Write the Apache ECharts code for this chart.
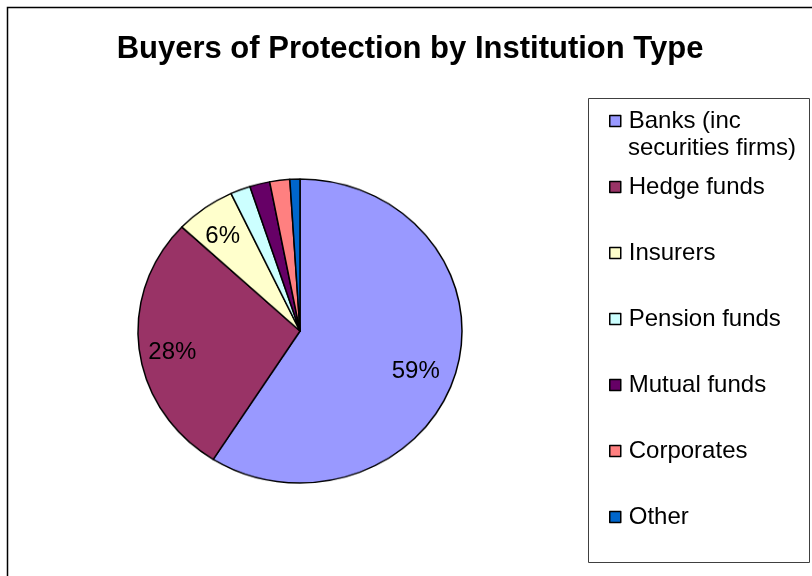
<!DOCTYPE html>
<html>
<head>
<meta charset="utf-8">
<script src="https://cdn.jsdelivr.net/npm/echarts@6/dist/echarts.min.js"></script>
<style>
html,body{margin:0;padding:0;background:#fff;}
#wrap{position:relative;width:812px;height:576px;overflow:hidden;}
#pie{position:absolute;left:0;top:0;width:812px;height:576px;transform-origin:300px 331px;transform:scaleY(0.938);}
#chart{position:absolute;left:0;top:0;width:812px;height:576px;}
</style>
</head>
<body>
<div id="wrap">
<div id="pie"></div>
<div id="chart"></div>
</div>
<script>
const categories = ['Banks (inc securities firms)', 'Hedge funds', 'Insurers', 'Pension funds', 'Mutual funds', 'Corporates', 'Other'];
const values = [59, 28, 6, 2, 2, 2, 1];
const colors = ['#9999FF', '#993366', '#FFFFCC', '#CCFFFF', '#660066', '#FF8080', '#0066CC'];
const titleText = 'Buyers of Protection by Institution Type';

const FONT = 'Arial, "Liberation Sans", sans-serif';
const CX = 300, CY = 331, R = 162;

// Pie slices (vertically squashed to match the elliptical Excel pie)
const pieChart = echarts.init(document.getElementById('pie'), null, {renderer: 'canvas'});
pieChart.setOption({
  animation: false,
  backgroundColor: 'rgba(0,0,0,0)',
  series: [{
    type: 'pie',
    center: [CX, CY],
    radius: [0, R],
    startAngle: 90,
    clockwise: true,
    avoidLabelOverlap: false,
    label: {show: false},
    labelLine: {show: false},
    itemStyle: {borderColor: '#000', borderWidth: 1.5},
    emphasis: {disabled: true},
    data: categories.map((c, i) => ({name: c, value: values[i], itemStyle: {color: colors[i]}}))
  }]
});

// Title, legend, frame and percentage labels
const chart = echarts.init(document.getElementById('chart'), null, {renderer: 'canvas'});
const labelData = categories.map((c, i) => ({
  name: c, value: values[i],
  label: {show: values[i] >= 5}
}));

chart.setOption({
  backgroundColor: 'rgba(0,0,0,0)',
  animation: false,
  title: {
    text: titleText,
    left: 405, top: 44, textAlign: 'center', textVerticalAlign: 'middle',
    textStyle: {fontFamily: FONT, fontSize: 31, fontWeight: 'bold', color: '#000'}
  },
  legend: {
    orient: 'vertical',
    left: 609, top: 109,
    padding: 0,
    itemGap: 42,
    itemWidth: 11, itemHeight: 11,
    icon: 'rect',
    selectedMode: false,
    data: categories.map((c, i) => ({name: c, itemStyle: {color: colors[i], borderColor: '#000', borderWidth: 1.5}})),
    formatter: function (n) { return n === categories[0] ? 'Banks (inc' : n; },
    textStyle: {fontFamily: FONT, fontSize: 24, color: '#000', lineHeight: 24, padding: [0, 0, 0, 3]}
  },
  graphic: [
    {type: 'rect', shape: {x: 7.5, y: 7.5, width: 900, height: 700}, style: {fill: 'none', stroke: '#000', lineWidth: 1.5}, silent: true},
    {type: 'rect', shape: {x: 588.5, y: 98.5, width: 221, height: 464}, style: {fill: 'none', stroke: '#404040', lineWidth: 1}, silent: true},
    {type: 'text', x: 628, y: 148, style: {text: 'securities firms)', font: '24px ' + FONT, fill: '#000', textVerticalAlign: 'middle'}, silent: true}
  ],
  series: [
    {
      type: 'pie',
      center: [296, 337],
      radius: [0, 157 * 1.55],
      startAngle: 90,
      clockwise: true,
      silent: true,
      avoidLabelOverlap: false,
      itemStyle: {color: 'rgba(0,0,0,0)', borderWidth: 0},
      labelLine: {show: false},
      label: {
        position: 'inside',
        fontFamily: FONT, fontSize: 24, color: '#000',
        formatter: function (p) { return Math.round(p.percent) + '%'; }
      },
      emphasis: {disabled: true},
      data: labelData
    }
  ]
});
</script>
</body>
</html>
